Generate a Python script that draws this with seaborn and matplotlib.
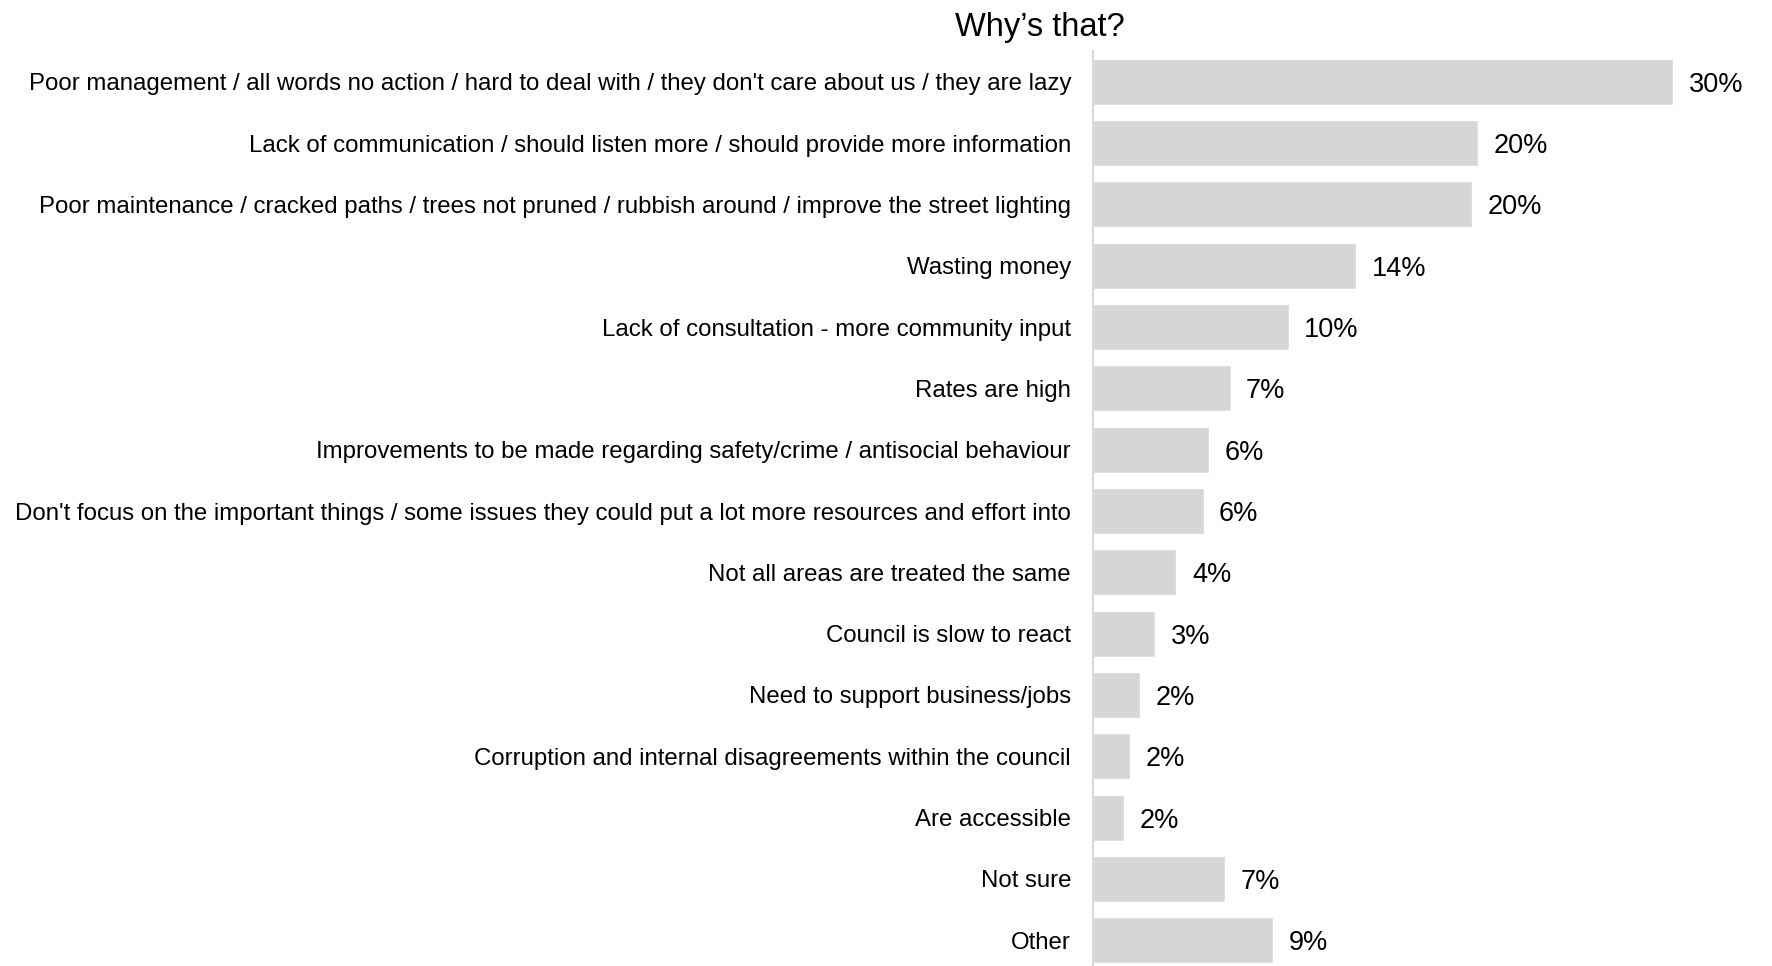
import matplotlib
matplotlib.use("Agg")
import matplotlib.pyplot as plt
import seaborn as sns
import pandas as pd

categories = [
    "Poor management / all words no action / hard to deal with / they don't care about us / they are lazy",
    "Lack of communication / should listen more / should provide more information",
    "Poor maintenance / cracked paths / trees not pruned / rubbish around / improve the street lighting",
    "Wasting money",
    "Lack of consultation - more community input",
    "Rates are high",
    "Improvements to be made regarding safety/crime / antisocial behaviour",
    "Don't focus on the important things / some issues they could put a lot more resources and effort into",
    "Not all areas are treated the same",
    "Council is slow to react",
    "Need to support business/jobs",
    "Corruption and internal disagreements within the council",
    "Are accessible",
    "Not sure",
    "Other",
]
percent = [30.0, 19.9, 19.6, 13.6, 10.1, 7.1, 6.0, 5.7, 4.3, 3.2, 2.4, 1.9, 1.6, 6.8, 9.3]
title = "Why\u2019s that?"

df = pd.DataFrame({"reason": categories, "percent": percent})

sns.set_theme(style="white")
plt.rcParams["font.family"] = ["Liberation Sans", "DejaVu Sans"]

fig = plt.figure(figsize=(17.72, 9.66), dpi=100)
ax = fig.add_axes([0.617, 0.0, 0.383, 0.947])

sns.barplot(data=df, x="percent", y="reason", orient="h", color="#d6d6d6",
            saturation=1, width=0.75, ax=ax)

ax.set_xlim(0, 35.1)
ax.set_ylim(14.42, -0.5)
ax.set_xlabel("")
ax.set_ylabel("")
ax.set_xticks([])
for side in ("top", "right", "bottom"):
    ax.spines[side].set_visible(False)
ax.spines["left"].set_color("#d9d9d9")
ax.spines["left"].set_linewidth(1.5)
ax.tick_params(axis="y", length=0, pad=16, labelsize=17.25, labelcolor="black")

for i, v in enumerate(percent):
    ax.text(v + 0.8, i, f"{v:.0f}%", va="center_baseline", ha="left",
            fontsize=19.5, color="black")

fig.text(0.587, 0.972, title, ha="center", va="center", fontsize=23.5, color="black")

fig.savefig("out.png", dpi=100)
